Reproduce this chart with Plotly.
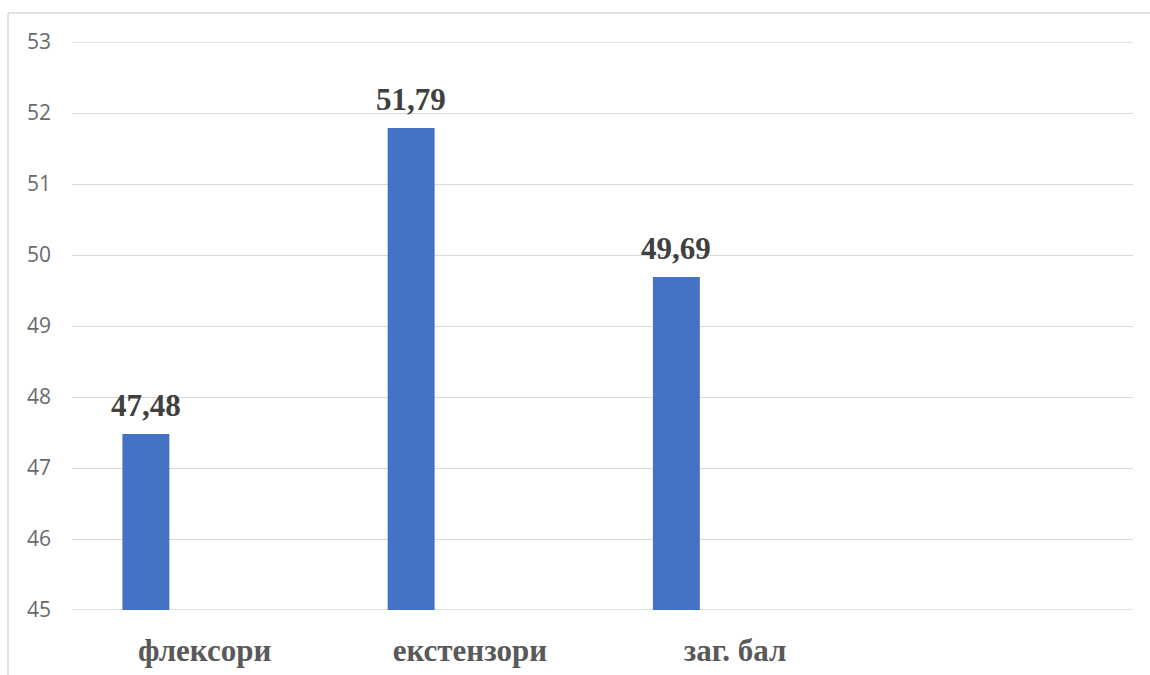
import plotly.graph_objects as go

categories = ["флексори", "екстензори", "заг. бал"]
values = [47.48, 51.79, 49.69]
value_labels = ["47,48", "51,79", "49,69"]
y_ticks = [45, 46, 47, 48, 49, 50, 51, 52, 53]

n_slots = 4
bar_offset = -0.310
bar_width = 0.177
W, H = 1150, 675
ML, MR, MT, MB = 72, 17, 42, 65

xs = list(range(len(categories)))

fig = go.Figure()
fig.add_trace(go.Bar(
    x=xs, y=[v - y_ticks[0] for v in values], base=y_ticks[0],
    offset=bar_offset, width=bar_width,
    marker=dict(color="#4472C4", line=dict(width=0)),
    hoverinfo="skip",
))

for i, (v, t) in enumerate(zip(values, value_labels)):
    fig.add_annotation(
        x=i + bar_offset + bar_width / 2, y=v, text=t, showarrow=False,
        yanchor="bottom", xanchor="center", yshift=9,
        font=dict(family="Liberation Serif", size=31, color="#404040", weight="bold"),
    )

# edge gridlines (plotly hides grid lines at the axis range edges)
for yv in (y_ticks[0], y_ticks[-1]):
    fig.add_shape(type="line", xref="paper", yref="y", x0=0, x1=1, y0=yv, y1=yv,
                  line=dict(color="#d9d9d9", width=1.3), layer="below")

pw = W - ML - MR
ph = H - MT - MB
fx = (8 - ML) / pw
fy = (H - MB - 13) / ph
frame = dict(color="#d9d9d9", width=1.5)
fig.add_shape(type="line", xref="paper", yref="paper", x0=fx, x1=1.2, y0=fy, y1=fy, line=frame)
fig.add_shape(type="line", xref="paper", yref="paper", x0=fx, x1=fx, y0=-0.3, y1=fy, line=frame)

fig.update_layout(
    width=W, height=H,
    margin=dict(l=ML, r=MR, t=MT, b=MB),
    paper_bgcolor="white", plot_bgcolor="white",
    showlegend=False,
    xaxis=dict(
        range=[-0.5, n_slots - 0.5], tickvals=xs, ticktext=categories,
        showgrid=False, zeroline=False, showline=False, ticks="",
        tickfont=dict(family="Liberation Serif", size=31, color="#595959", weight="bold"),
        ticklabelstandoff=19, automargin=False,
    ),
    yaxis=dict(
        range=[y_ticks[0], y_ticks[-1]], tickvals=y_ticks,
        showgrid=True, gridcolor="#d9d9d9", gridwidth=1.3,
        zeroline=False, showline=False, ticks="",
        tickfont=dict(family="Open Sans", size=21, color="#6a6a6a"),
        ticklabelstandoff=20, automargin=False,
    ),
)
fig.write_html("out.html")
